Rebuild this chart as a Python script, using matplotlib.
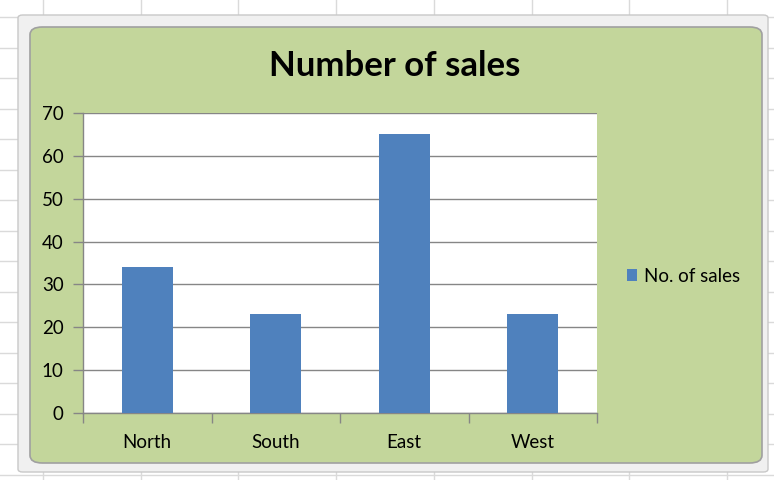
import matplotlib.pyplot as plt
from matplotlib.lines import Line2D
from matplotlib.patches import FancyBboxPatch, Patch

regions = ['North', 'South', 'East', 'West']
sales = [34, 23, 65, 23]
y_ticks = [0, 10, 20, 30, 40, 50, 60, 70]

W, H = 774, 480
bar_color = '#4f81bd'
fill_color = '#c3d69b'
grid_color = '#868686'

plt.rcParams['font.family'] = ['Lato', 'DejaVu Sans']

fig = plt.figure(figsize=(W / 100, H / 100), dpi=100)
fig.patch.set_facecolor('white')


def px(x, y):
    # pixel coordinates (top-left origin) -> figure fraction
    return x / W, 1 - y / H


# worksheet cell lines behind the chart object
for k in range(9):
    x = 43 + 97.7 * k
    fig.add_artist(Line2D([x / W, x / W], [0, 1], color='#dadada', lw=1,
                          transform=fig.transFigure, zorder=-3))
for k in range(17):
    y = 17 + 30.5 * k
    fig.add_artist(Line2D([0, 1], [1 - y / H, 1 - y / H], color='#dadada', lw=1,
                          transform=fig.transFigure, zorder=-3))

# selection frame and chart area
x0, y0 = px(18, 472)
x1, y1 = px(768, 15)
fig.add_artist(FancyBboxPatch((x0, y0), x1 - x0, y1 - y0,
                              boxstyle='round,pad=0,rounding_size=0.006',
                              transform=fig.transFigure, facecolor='#f0f0f0',
                              edgecolor='#c8c8c8', lw=1, zorder=-2))
x0, y0 = px(30, 463)
x1, y1 = px(762, 27)
fig.add_artist(FancyBboxPatch((x0, y0), x1 - x0, y1 - y0,
                              boxstyle='round,pad=0,rounding_size=0.016',
                              transform=fig.transFigure, facecolor=fill_color,
                              edgecolor='#a0a0a0', lw=1.2, zorder=-1))

# plot area
left, top = px(83, 113)
right, bottom = px(597, 413)
ax = fig.add_axes([left, bottom, right - left, top - bottom])
ax.set_facecolor('white')

pos = list(range(len(regions)))
ax.bar(pos, sales, width=0.4, color=bar_color, zorder=3)

ax.set_ylim(0, 70)
ax.set_yticks(y_ticks)
ax.yaxis.grid(True, color=grid_color, lw=1)
ax.set_axisbelow(True)
ax.tick_params(axis='y', length=7, width=1, color=grid_color, labelsize=13.5, pad=7)

ax.set_xlim(-0.5, len(regions) - 0.5)
ax.set_xticks([p - 0.5 for p in pos] + [len(regions) - 0.5])
ax.set_xticklabels([])
ax.set_xticks(pos, minor=True)
ax.set_xticklabels(regions, minor=True)
ax.tick_params(axis='x', which='major', length=7, width=1, color=grid_color)
ax.tick_params(axis='x', which='minor', length=0, labelsize=13.5, pad=15)

for side in ('top', 'right'):
    ax.spines[side].set_visible(False)
for side in ('left', 'bottom'):
    ax.spines[side].set_color(grid_color)
    ax.spines[side].set_linewidth(1)

fig.text(395 / W, 1 - 66 / H, 'Number of sales', ha='center', va='center',
         fontsize=25, fontweight='bold')

fig.legend(handles=[Patch(facecolor=bar_color, label='No. of sales')],
           loc='center left', bbox_to_anchor=px(610, 276), frameon=False,
           handlelength=0.55, handleheight=0.55, handletextpad=0.35, fontsize=13.5)

fig.savefig('out.png', dpi=100)
